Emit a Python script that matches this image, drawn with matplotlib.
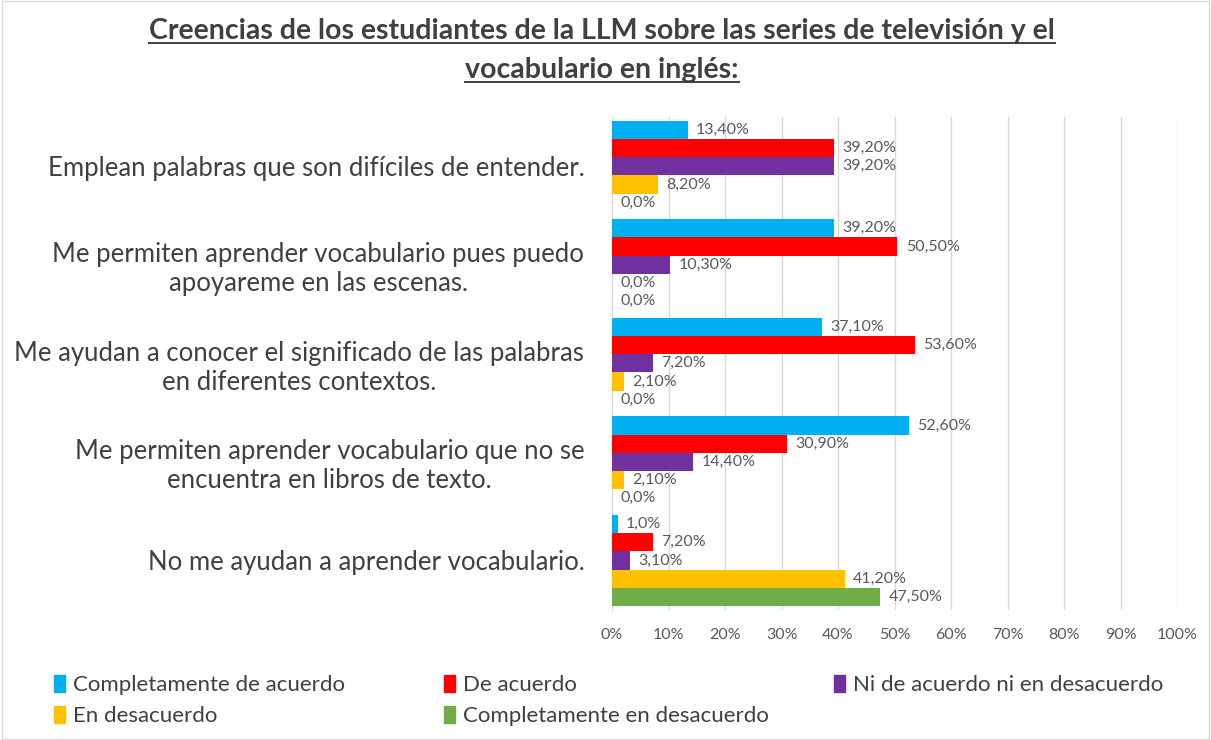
import matplotlib.pyplot as plt
import numpy as np
from matplotlib.lines import Line2D
from matplotlib.patches import Rectangle

plt.rcParams["font.family"] = ["Lato", "DejaVu Sans"]

categories = [
    "Emplean palabras que son difíciles de entender.",
    "Me permiten aprender vocabulario pues puedo\napoyareme en las escenas.",
    "Me ayudan a conocer el significado de las palabras\nen diferentes contextos.",
    "Me permiten aprender vocabulario que no se\nencuentra en libros de texto.",
    "No me ayudan a aprender vocabulario.",
]
series_names = [
    "Completamente de acuerdo",
    "De acuerdo",
    "Ni de acuerdo ni en desacuerdo",
    "En desacuerdo",
    "Completamente en desacuerdo",
]
completamente_acuerdo = [13.4, 39.2, 37.1, 52.6, 1.0]
de_acuerdo = [39.2, 50.5, 53.6, 30.9, 7.2]
ni_ni = [39.2, 10.3, 7.2, 14.4, 3.1]
en_desacuerdo = [8.2, 0.0, 2.1, 2.1, 41.2]
completamente_desacuerdo = [0.0, 0.0, 0.0, 0.0, 47.5]
series_values = [completamente_acuerdo, de_acuerdo, ni_ni, en_desacuerdo,
                 completamente_desacuerdo]
colors = ["#00B0F0", "#FF0000", "#7030A0", "#FFC000", "#70AD47"]


def fmt(v):
    # the source shows whole values with one decimal and the rest with two
    if v in (0.0, 1.0):
        return f"{v:.1f}".replace(".", ",") + "%"
    return f"{v:.2f}".replace(".", ",") + "%"


fig = plt.figure(figsize=(12.11, 7.4), dpi=100)
fig.add_artist(Rectangle((0.002, 0.002), 0.996, 0.996, transform=fig.transFigure,
                         fill=False, edgecolor="#d9d9d9", linewidth=1))
ax = fig.add_axes([0.5054, 0.176, 0.4666, 0.666])

n = len(categories)
bar_h = 0.185
y_base = np.arange(n)
for k, (vals, col, name) in enumerate(zip(series_values, colors, series_names)):
    ys = y_base + (k - 2) * bar_h
    ax.barh(ys, vals, height=bar_h, color=col, label=name, zorder=3)
    for y, v in zip(ys, vals):
        ax.annotate(fmt(v), (v, y), xytext=(6, 0), textcoords="offset points",
                    va="center", ha="left", fontsize=11.5, color="#595959",
                    zorder=4)

ax.set_xlim(0, 100)
ax.set_ylim(n - 0.5, -0.5)
ax.set_xticks(np.arange(0, 101, 10))
ax.set_xticklabels([f"{t}%" for t in range(0, 101, 10)], fontsize=11.5,
                   color="#595959")
ax.set_yticks(y_base)
ax.set_yticklabels(categories, fontsize=18.5, color="#404040",
                   multialignment="center")
ax.tick_params(axis="both", length=0)
ax.tick_params(axis="y", pad=20)
ax.tick_params(axis="x", pad=13)
ax.grid(axis="x", color="#d9d9d9", linewidth=1, zorder=0)
for s in ["top", "right", "bottom"]:
    ax.spines[s].set_visible(False)
ax.spines["left"].set_color("#d9d9d9")

# legend in three fixed columns, filled row by row like the source
legend_cols = [[0, 3], [1, 4], [2]]
legend_x = [0.0445, 0.3665, 0.6885]
for idxs, lx in zip(legend_cols, legend_x):
    handles = [Rectangle((0, 0), 1, 1, color=colors[i]) for i in idxs]
    labels = [series_names[i] for i in idxs]
    fig.legend(handles, labels, loc="upper left", bbox_to_anchor=(lx, 0.088),
               frameon=False, fontsize=16, handlelength=0.5, handleheight=0.8,
               handletextpad=0.35, labelspacing=0.5, labelcolor="#404040",
               borderaxespad=0, borderpad=0)

title_lines = ["Creencias de los estudiantes de la LLM sobre las series de televisión y el",
               "vocabulario en inglés:"]
title_y = [0.958, 0.905]
fig.canvas.draw()
renderer = fig.canvas.get_renderer()
for line, ty in zip(title_lines, title_y):
    t = fig.text(0.497, ty, line, ha="center", va="center", fontsize=20.5,
                 fontweight="bold", color="#404040")
    bb = t.get_window_extent(renderer=renderer).transformed(fig.transFigure.inverted())
    fig.add_artist(Line2D([bb.x0, bb.x1], [bb.y0 + 0.002, bb.y0 + 0.002],
                          transform=fig.transFigure, color="#404040", linewidth=1.4))

fig.savefig("out.png", dpi=100)
